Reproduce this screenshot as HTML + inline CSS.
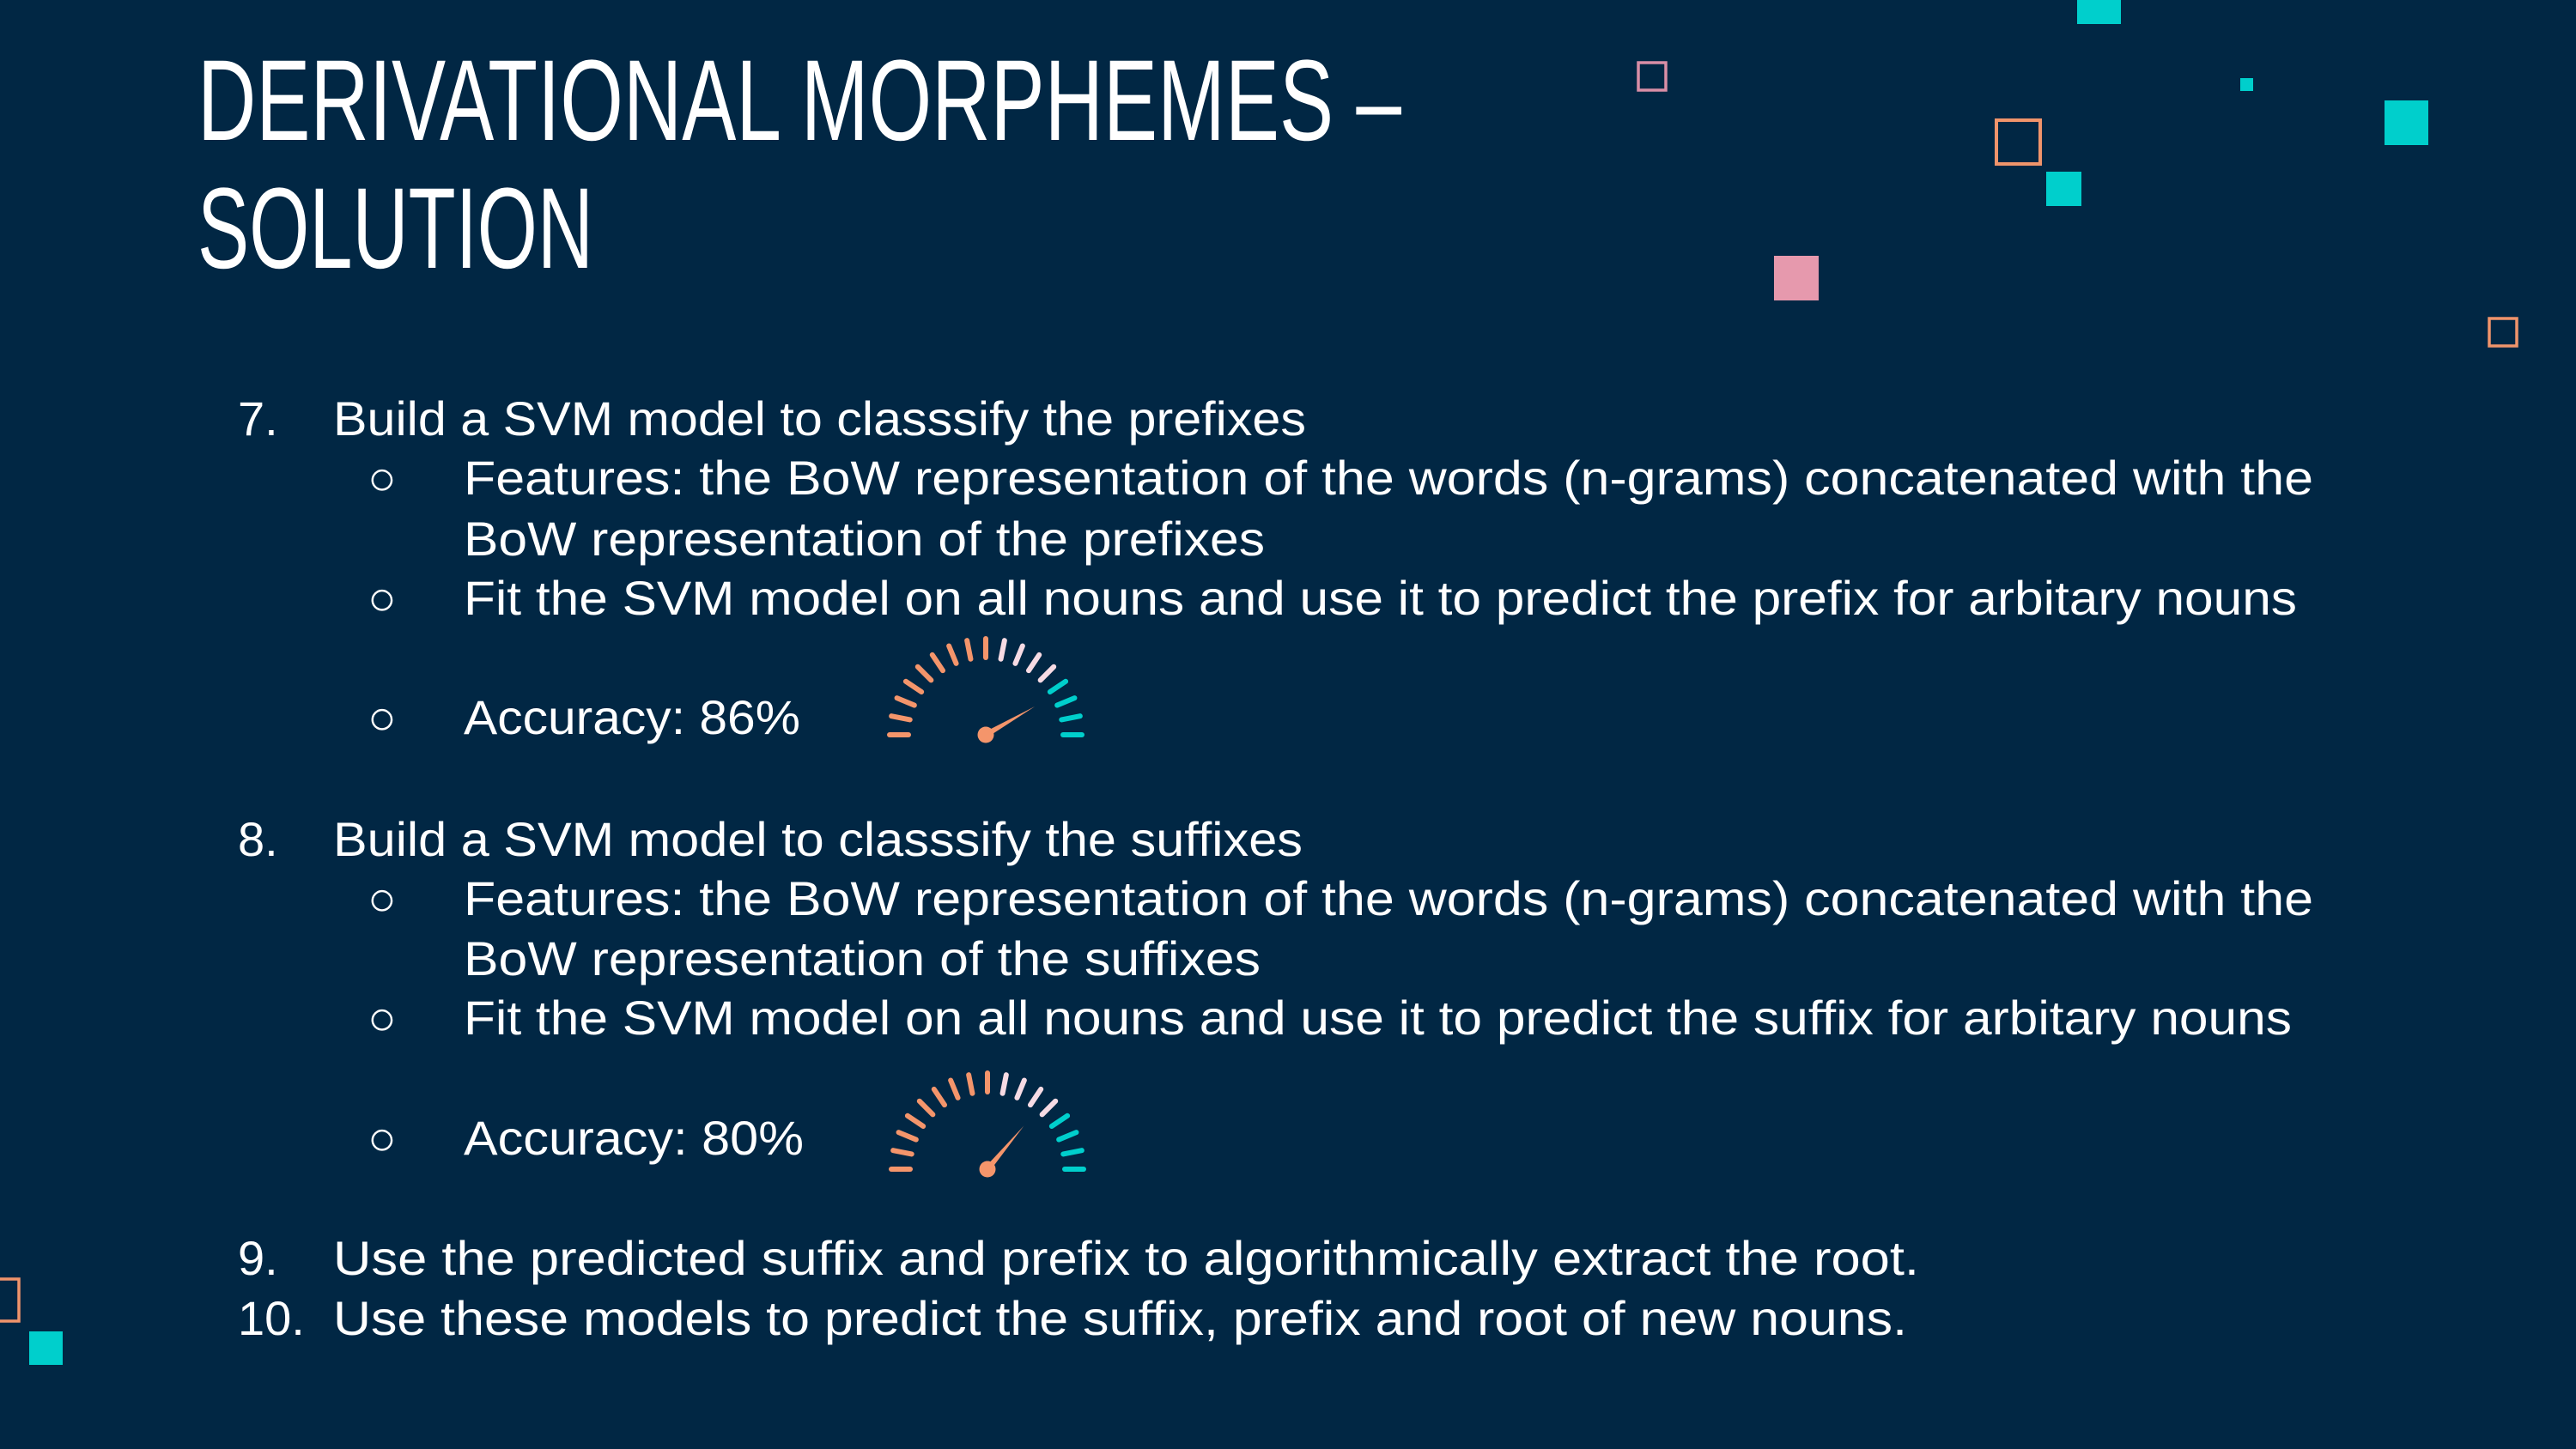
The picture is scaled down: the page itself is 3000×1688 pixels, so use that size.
<!DOCTYPE html>
<html><head><meta charset="utf-8"><style>
html,body{margin:0;padding:0;background:#012744;}
svg{display:block}
</style></head><body>
<svg width="3000" height="1688" viewBox="0 0 3000 1688" xmlns="http://www.w3.org/2000/svg">
<rect x="0" y="0" width="3000" height="1688" fill="#012744"/>
<g>
<rect x="1908" y="73" width="32" height="32" fill="none" stroke="#d98ea6" stroke-width="3.5"/>
<rect x="2419" y="0" width="51" height="28" fill="#00cfcc"/>
<rect x="2609" y="91" width="15" height="15" fill="#00cfcc"/>
<rect x="2777" y="117" width="51" height="52" fill="#00cfcc"/>
<rect x="2325" y="140" width="51" height="51" fill="none" stroke="#f0946b" stroke-width="4"/>
<rect x="2383" y="200" width="41" height="40" fill="#00cfcc"/>
<rect x="2066" y="298" width="52" height="52" fill="#e699ad"/>
<rect x="2899" y="371" width="32" height="32" fill="none" stroke="#f0946b" stroke-width="3.5"/>
<rect x="-4" y="1490" width="26" height="49" fill="none" stroke="#f0946b" stroke-width="3.5"/>
<rect x="34" y="1551" width="39" height="39" fill="#00cfcc"/>
</g>
<g font-family="Liberation Sans, sans-serif" fill="#ffffff">
<text x="230" y="163" font-size="134" textLength="1402" lengthAdjust="spacingAndGlyphs">DERIVATIONAL MORPHEMES –</text>
<text x="230" y="312" font-size="134" textLength="461" lengthAdjust="spacingAndGlyphs">SOLUTION</text>
</g>
<g font-family="Liberation Sans, sans-serif" fill="#ffffff" font-size="56">
<text x="277" y="507">7.</text>
<text x="388" y="507" textLength="1133" lengthAdjust="spacingAndGlyphs">Build a SVM model to classsify the prefixes</text>
<text x="428" y="576">○</text>
<text x="540" y="576" textLength="2154" lengthAdjust="spacingAndGlyphs">Features: the BoW representation of the words (n-grams) concatenated with the</text>
<text x="540" y="647" textLength="933" lengthAdjust="spacingAndGlyphs">BoW representation of the prefixes</text>
<text x="428" y="716">○</text>
<text x="540" y="716" textLength="2135" lengthAdjust="spacingAndGlyphs">Fit the SVM model on all nouns and use it to predict the prefix for arbitary nouns</text>
<text x="428" y="855">○</text>
<text x="540" y="855" textLength="392" lengthAdjust="spacingAndGlyphs">Accuracy: 86%</text>
<text x="277" y="997">8.</text>
<text x="388" y="997" textLength="1129" lengthAdjust="spacingAndGlyphs">Build a SVM model to classsify the suffixes</text>
<text x="428" y="1066">○</text>
<text x="540" y="1066" textLength="2154" lengthAdjust="spacingAndGlyphs">Features: the BoW representation of the words (n-grams) concatenated with the</text>
<text x="540" y="1136" textLength="928" lengthAdjust="spacingAndGlyphs">BoW representation of the suffixes</text>
<text x="428" y="1205">○</text>
<text x="540" y="1205" textLength="2129" lengthAdjust="spacingAndGlyphs">Fit the SVM model on all nouns and use it to predict the suffix for arbitary nouns</text>
<text x="428" y="1345">○</text>
<text x="540" y="1345" textLength="396" lengthAdjust="spacingAndGlyphs">Accuracy: 80%</text>
<text x="277" y="1485">9.</text>
<text x="388" y="1485" textLength="1847" lengthAdjust="spacingAndGlyphs">Use the predicted suffix and prefix to algorithmically extract the root.</text>
<text x="277" y="1555">10.</text>
<text x="388" y="1555" textLength="1833" lengthAdjust="spacingAndGlyphs">Use these models to predict the suffix, prefix and root of new nouns.</text>
</g>
<g id="gauges"></g>
</svg>
<script>
const gaugeNames = ['prefix-gauge', 'suffix-gauge'];
const accuracyValues = [86, 80];
const tickColors = ['#f4956b','#f4956b','#f4956b','#f4956b','#f4956b','#f4956b','#f4956b','#f4956b','#f4956b','#f7dbe4','#f7dbe4','#f7dbe4','#f7dbe4','#00cfcc','#00cfcc','#00cfcc','#00cfcc'];
const centers = [[1148,856],[1150,1362]];
function angleScale(v){ return 30 + (86 - v) * (20/6); }
const NS='http://www.w3.org/2000/svg';
const g=document.getElementById('gauges');
gaugeNames.forEach((name,i)=>{
  const [cx,cy]=centers[i];
  const grp=document.createElementNS(NS,'g');
  
  
  const n=tickColors.length;
  tickColors.forEach((c,k)=>{
    const a=Math.PI - k*Math.PI/(n-1);
    const r1=90, r2=112;
    const l=document.createElementNS(NS,'line');
    l.setAttribute('x1',cx+r1*Math.cos(a)); l.setAttribute('y1',cy-r1*Math.sin(a));
    l.setAttribute('x2',cx+r2*Math.cos(a)); l.setAttribute('y2',cy-r2*Math.sin(a));
    l.setAttribute('stroke',c); l.setAttribute('stroke-width','6'); l.setAttribute('stroke-linecap','round');
    
    
    grp.appendChild(l);
  });
  const ang=angleScale(accuracyValues[i])*Math.PI/180;
  const L=66;
  const tx=cx+L*Math.cos(ang), ty=cy-L*Math.sin(ang);
  const px=-Math.sin(ang)*3.5, py=-Math.cos(ang)*3.5;
  const nd=document.createElementNS(NS,'polygon');
  nd.setAttribute('points',`${cx+px},${cy+py} ${cx-px},${cy-py} ${tx},${ty}`);
  nd.setAttribute('fill','#f4956b');
  
  
  grp.appendChild(nd);
  const c=document.createElementNS(NS,'circle');
  c.setAttribute('cx',cx); c.setAttribute('cy',cy); c.setAttribute('r','9.5'); c.setAttribute('fill','#f4956b');
  
  
  grp.appendChild(c);
  g.appendChild(grp);
});
</script>
</body></html>
